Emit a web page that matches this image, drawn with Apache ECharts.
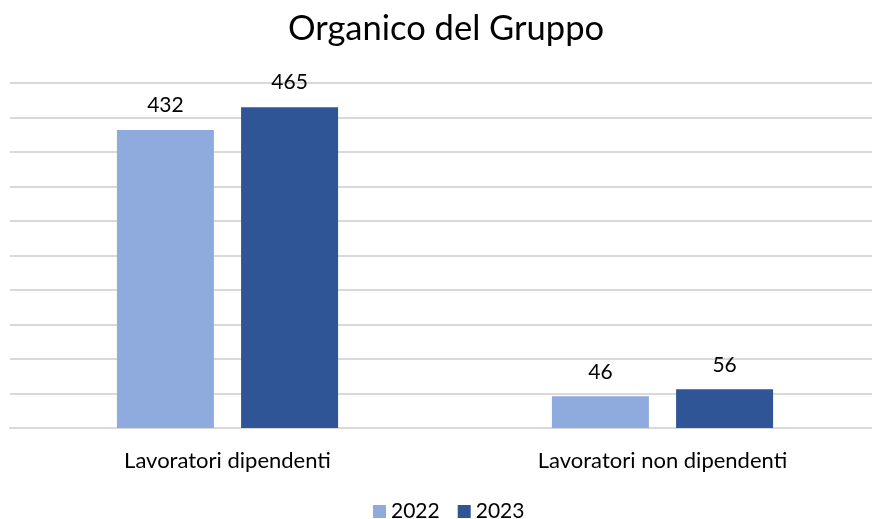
<!DOCTYPE html>
<html>
<head>
<meta charset="utf-8">
<script src="https://cdn.jsdelivr.net/npm/echarts@6/dist/echarts.min.js"></script>
<style>html,body{margin:0;padding:0;background:#fff;}#c{width:872px;height:519px;}</style>
</head>
<body>
<div id="c"></div>
<script>
const categories = ["Lavoratori dipendenti", "Lavoratori non dipendenti"];
const seriesNames = ["2022", "2023"];
const values2022 = [432, 46];
const values2023 = [465, 56];
const colors = ["#8FAADC", "#2F5597"];
const FONT = "Lato";

const chart = echarts.init(document.getElementById('c'));
const labelStyle = {show: true, position: 'top', distance: 14, color: '#000', fontSize: 21, fontFamily: FONT};
chart.setOption({
  animation: false,
  title: {text: "Organico del Gruppo", left: 283, top: 6,
    textStyle: {fontFamily: FONT, fontSize: 34.5, fontWeight: 'normal', color: '#000'}},
  legend: {bottom: -8, left: 368, itemWidth: 13, itemHeight: 13, itemGap: 18,
    icon: 'rect', textStyle: {fontFamily: FONT, fontSize: 21, color: '#000'},
    data: seriesNames},
  grid: {left: 10, width: 870, top: 83, bottom: 91, outerBoundsMode: 'none'},
  xAxis: {type: 'category', data: categories,
    axisLine: {show: true, lineStyle: {color: '#D9D9D9', width: 2}}, axisTick: {show: false},
    axisLabel: {fontFamily: FONT, fontSize: 22, color: '#000', margin: 22}},
  yAxis: {type: 'value', min: 0, max: 500, interval: 50,
    axisLabel: {show: false}, axisLine: {show: false}, axisTick: {show: false},
    splitLine: {lineStyle: {color: '#D9D9D9', width: 2}}},
  series: [
    {name: seriesNames[0], type: 'bar', data: values2022, barWidth: 97, barGap: '28%',
      itemStyle: {color: colors[0]}, label: labelStyle},
    {name: seriesNames[1], type: 'bar', data: values2023, barWidth: 97, barGap: '28%',
      itemStyle: {color: colors[1]}, label: labelStyle}
  ]
});
</script>
</body>
</html>
